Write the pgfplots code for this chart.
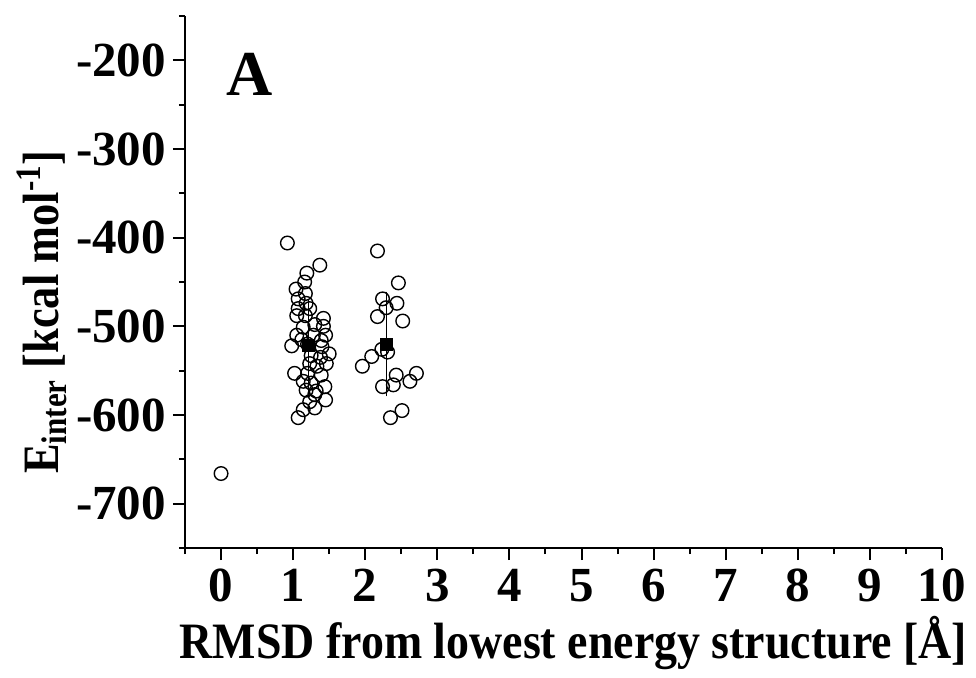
\documentclass[border=0pt]{standalone}
\usepackage{pgfplots}
\pgfplotsset{compat=1.18}
\usepackage{fontspec}
\setmainfont{Liberation Serif}
\newfontfamily\condx[FakeStretch=0.90]{Liberation Serif}
\newfontfamily\condy[FakeStretch=0.87]{Liberation Serif}
\begin{document}
\begin{tikzpicture}
\begin{axis}[
  scale only axis,
  width=378.5pt, height=266pt,
  xmin=-0.5, xmax=10, ymin=-750, ymax=-150,
  axis x line=bottom, axis y line=left,
  axis line style={-, line width=1pt},
  tick align=outside,
  major tick length=6pt, minor tick length=3pt,
  every tick/.style={black, line width=1pt},
  xtick={0,1,...,10},
  minor xtick={-0.5,0.5,...,9.5},
  ytick={-700,-600,-500,-400,-300,-200},
  yticklabels={-700,-600,-500,-400,-300,-200},
  minor ytick={-750,-650,-550,-450,-350,-250,-150},
  ticklabel style={font=\fontsize{24.5}{29}\selectfont\bfseries},
  xticklabel={\pgfmathprintnumber[assume math mode=true]{\tick}},
  xticklabel style={yshift=-1pt},
  xlabel={RMSD from lowest energy structure [Å]},
  ylabel={E\textsubscript{inter} [kcal mol\textsuperscript{-1}]},
  xlabel style={font=\fontsize{25.5}{30}\selectfont\condx\bfseries, yshift=0pt, xshift=5pt},
  ylabel style={font=\fontsize{25.5}{30}\selectfont\condy\bfseries, yshift=-2pt, xshift=-15pt},
  clip=false,
]
\addplot[only marks, mark=o, mark size=3.4pt, mark options={line width=0.7pt, fill=white}] coordinates {
(0,-666)
(0.92,-406) (1.37,-431) (1.19,-440) (1.16,-450) (1.04,-458) (1.17,-463)
(1.07,-469) (1.18,-474) (1.07,-480) (1.23,-480) (1.17,-488) (1.05,-488)
(1.42,-491) (1.30,-498) (1.42,-500) (1.14,-501) (1.05,-510) (1.45,-510)
(1.28,-510) (1.39,-516) (0.98,-522) (1.40,-523) (1.50,-531) (1.38,-535)
(1.25,-533) (1.46,-542) (1.23,-542) (1.02,-553) (1.39,-555) (1.14,-562)
(1.25,-564) (1.44,-568) (1.32,-573) (1.18,-572) (1.30,-577) (1.45,-583)
(1.23,-585) (1.30,-592) (1.14,-594) (1.07,-603) (1.20,-520) (1.12,-515)
(1.33,-545) (1.20,-553)
(2.17,-415) (2.46,-451) (2.24,-469) (2.44,-474) (2.29,-479) (2.17,-489)
(2.52,-494) (2.23,-526) (2.31,-529) (2.09,-534) (1.96,-545) (2.71,-553)
(2.43,-555) (2.62,-562) (2.39,-566) (2.24,-568) (2.51,-595) (2.35,-603)
};
\addplot[only marks, mark=square*, mark size=3pt, black,
  error bars/.cd, y dir=both, y explicit,
  error bar style={line width=0.5pt, black},
  error mark options={mark size=4pt, line width=0.5pt, black}] coordinates {
(1.21,-521) +- (0,43)
(2.30,-520) +- (0,50)
};
\node[font=\fontsize{32}{38}\selectfont\bfseries] at (axis cs:0.4,-216) {A};
\end{axis}
\pgfresetboundingbox
\path (current axis.south west) ++(-92.5pt,-64.5pt) coordinate (bl);
\useasboundingbox (bl) rectangle ++(488pt,338.5pt);
\end{tikzpicture}
\end{document}
